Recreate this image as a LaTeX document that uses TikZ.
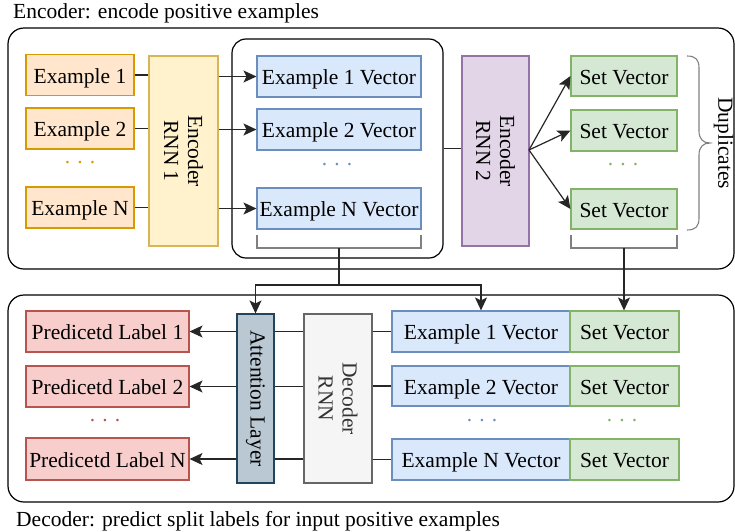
\documentclass[tikz,border=0pt]{standalone}
\usepackage{fontspec}
\setmainfont{Liberation Serif}
\usetikzlibrary{arrows.meta}
\definecolor{orf}{HTML}{FFE6CC}\definecolor{ord}{HTML}{D79B00}
\definecolor{yef}{HTML}{FFF2CC}\definecolor{yed}{HTML}{D6B656}
\definecolor{blf}{HTML}{DAE8FC}\definecolor{bld}{HTML}{6C8EBF}
\definecolor{puf}{HTML}{E1D5E7}\definecolor{pud}{HTML}{9673A6}
\definecolor{grf}{HTML}{D5E8D4}\definecolor{grd}{HTML}{82B366}
\definecolor{ref}{HTML}{F8CECC}\definecolor{red2}{HTML}{B85450}
\definecolor{atf}{HTML}{BAC8D3}\definecolor{atd}{HTML}{23445D}
\definecolor{gyf}{HTML}{F5F5F5}\definecolor{gyd}{HTML}{666666}
\definecolor{gyt}{HTML}{333333}\definecolor{brk}{HTML}{808080}
\begin{document}
\begin{tikzpicture}[x=1pt,y=-1pt,
  font=\fontsize{21.5}{24}\selectfont,
  box/.style={draw, line width=1.1pt, inner sep=0pt, minimum height=41pt, text height=17pt, text depth=1pt},
  exbox/.style={box, fill=orf, draw=ord, minimum width=108pt},
  vecbox/.style={box, fill=blf, draw=bld},
  setbox/.style={box, fill=grf, draw=grd},
  labbox/.style={box, fill=ref, draw=red2, minimum width=163pt},
  conn/.style={line width=1.2pt, draw=black!85},
  arr/.style={conn, -{Stealth[length=13pt,width=12pt,inset=3pt]}},
  grp/.style={draw, line width=1.2pt, rounded corners=16pt, inner sep=0pt},
  brk/.style={draw=brk, line width=1.1pt},
  dots/.style={inner sep=0pt}
]
\useasboundingbox (0,0) rectangle (735,531);

% captions
\node[anchor=base west, inner sep=0pt] (capE) at (13,18) {Encoder: encode positive examples};
\node[anchor=base west, inner sep=0pt] (capD) at (16,526) {Decoder: predict split labels for input positive examples};

% group boxes
\node[grp, minimum width=726pt, minimum height=241pt] (encgrp) at (371,148.5) {};
\node[grp, minimum width=211pt, minimum height=219pt, rounded corners=14pt] (vecgrp) at (337.5,148.5) {};
\node[grp, minimum width=726pt, minimum height=207pt] (decgrp) at (371,398.5) {};

% encoder inputs
\node[exbox] (ex1) at (80,75) {Example 1};
\node[exbox] (ex2) at (80,128.5) {Example 2};
\node[dots, text=ord] (exd) at (80,163) {. . .};
\node[exbox] (exN) at (80,207.5) {Example N};

\node[box, fill=yef, draw=yed, minimum width=69pt, minimum height=190pt] (rnn1) at (183.5,151) {};
\node[rotate=-90, align=center, inner sep=0pt] (rnn1t) at (rnn1) {Encoder\\RNN 1};

\node[vecbox, minimum width=164pt] (v1) at (339,76.5) {Example 1 Vector};
\node[vecbox, minimum width=164pt] (v2) at (339,129.5) {Example 2 Vector};
\node[dots, text=bld] (vd) at (337,165) {. . .};
\node[vecbox, minimum width=164pt] (vN) at (339,208.5) {Example N Vector};

\node[box, fill=puf, draw=pud, minimum width=67pt, minimum height=190pt] (rnn2) at (495.5,151) {};
\node[rotate=-90, align=center, inner sep=0pt] (rnn2t) at (rnn2) {Encoder\\RNN 2};

\node[setbox, minimum width=106pt, minimum height=40pt] (s1) at (624,76) {Set Vector};
\node[setbox, minimum width=106pt] (s2) at (624,130.5) {Set Vector};
\node[dots, text=grd] (sd) at (623,165) {. . .};
\node[setbox, minimum width=106pt, minimum height=40pt] (sN) at (624,209) {Set Vector};

\node[rotate=-90, inner sep=0pt] (dup) at (723.5,143) {Duplicates};

% encoder connectors
\draw[conn] (ex1.east) -- (ex1.east -| rnn1.west);
\draw[conn] (ex2.east) -- (ex2.east -| rnn1.west);
\draw[conn] (exN.east) -- (exN.east -| rnn1.west);
\draw[arr] (v1.west -| rnn1.east) -- (v1.west);
\draw[arr] (v2.west -| rnn1.east) -- (v2.west);
\draw[arr] (vN.west -| rnn1.east) -- (vN.west);
\draw[conn] (vecgrp.east) -- (vecgrp.east -| rnn2.west);
\coordinate (r2o) at (529,150);
\draw[arr] (r2o) -- (s1.west);
\draw[arr] (r2o) -- (s2.west);
\draw[arr] (r2o) -- (sN.west);

% brackets
\draw[brk] (257,235) -- (257,248) -- (421,248) -- (421,235);
\draw[brk] (571,235) -- (571,248) -- (677,248) -- (677,235);
\draw[brk] (687,56) .. controls (696,56) and (699,60) .. (699,68) -- (699,131)
  .. controls (699,139) and (703,143) .. (710,143)
  .. controls (703,143) and (699,147) .. (699,155) -- (699,218)
  .. controls (699,226) and (696,230) .. (687,230);

% decoder
\node[labbox] (L1) at (107.5,331.5) {Predicetd Label 1};
\node[labbox] (L2) at (107.5,386.5) {Predicetd Label 2};
\node[dots, text=red2] (Ld) at (105,421) {. . .};
\node[labbox, minimum height=42pt] (LN) at (107.5,459) {Predicetd Label N};

\node[box, fill=atf, draw=atd, minimum width=37pt, minimum height=169pt] (att) at (255.5,398.5) {};
\node[rotate=-90, inner sep=0pt] (attt) at (att) {Attention Layer};

\node[box, fill=gyf, draw=gyd, minimum width=68pt, minimum height=169pt] (drnn) at (338,398.5) {};
\node[rotate=-90, align=center, inner sep=0pt, text=gyt] (drnnt) at (drnn) {Decoder\\RNN};

\node[vecbox, minimum width=178pt] (dv1) at (481,331.5) {Example 1 Vector};
\node[vecbox, minimum width=178pt, minimum height=40pt] (dv2) at (481,386) {Example 2 Vector};
\node[dots, text=bld] (dvd) at (482,421) {. . .};
\node[vecbox, minimum width=178pt] (dvN) at (481,459.5) {Example N Vector};

\node[setbox, minimum width=109pt] (ds1) at (624.5,331.5) {Set Vector};
\node[setbox, minimum width=109pt, minimum height=40pt] (ds2) at (624.5,386) {Set Vector};
\node[dots, text=grd] (dsd) at (622,421) {. . .};
\node[setbox, minimum width=109pt] (dsN) at (624.5,459.5) {Set Vector};

% decoder connectors
\draw[arr] (L1.east -| att.west) -- (L1.east);
\draw[arr] (L2.east -| att.west) -- (L2.east);
\draw[arr] (LN.east -| att.west) -- (LN.east);
\draw[conn] (att.east |- L1.east) -- (drnn.west |- L1.east);
\draw[conn] (att.east |- L2.east) -- (drnn.west |- L2.east);
\draw[conn] (att.east |- LN.east) -- (drnn.west |- LN.east);
\draw[conn] (drnn.east |- dv1.west) -- (dv1.west);
\draw[conn] (drnn.east |- dv2.west) -- (dv2.west);
\draw[conn] (drnn.east |- dvN.west) -- (dvN.west);

% between encoder and decoder
\coordinate (b1) at (339,248);
\coordinate (j1) at (339,285);
\draw[conn] (b1) -- (j1);
\draw[arr] (j1) -| (att.north);
\draw[arr] (j1) -| (dv1.north);
\coordinate (b2) at (624,248);
\draw[arr] (b2) -- (b2 |- ds1.north);
\end{tikzpicture}
\end{document}
